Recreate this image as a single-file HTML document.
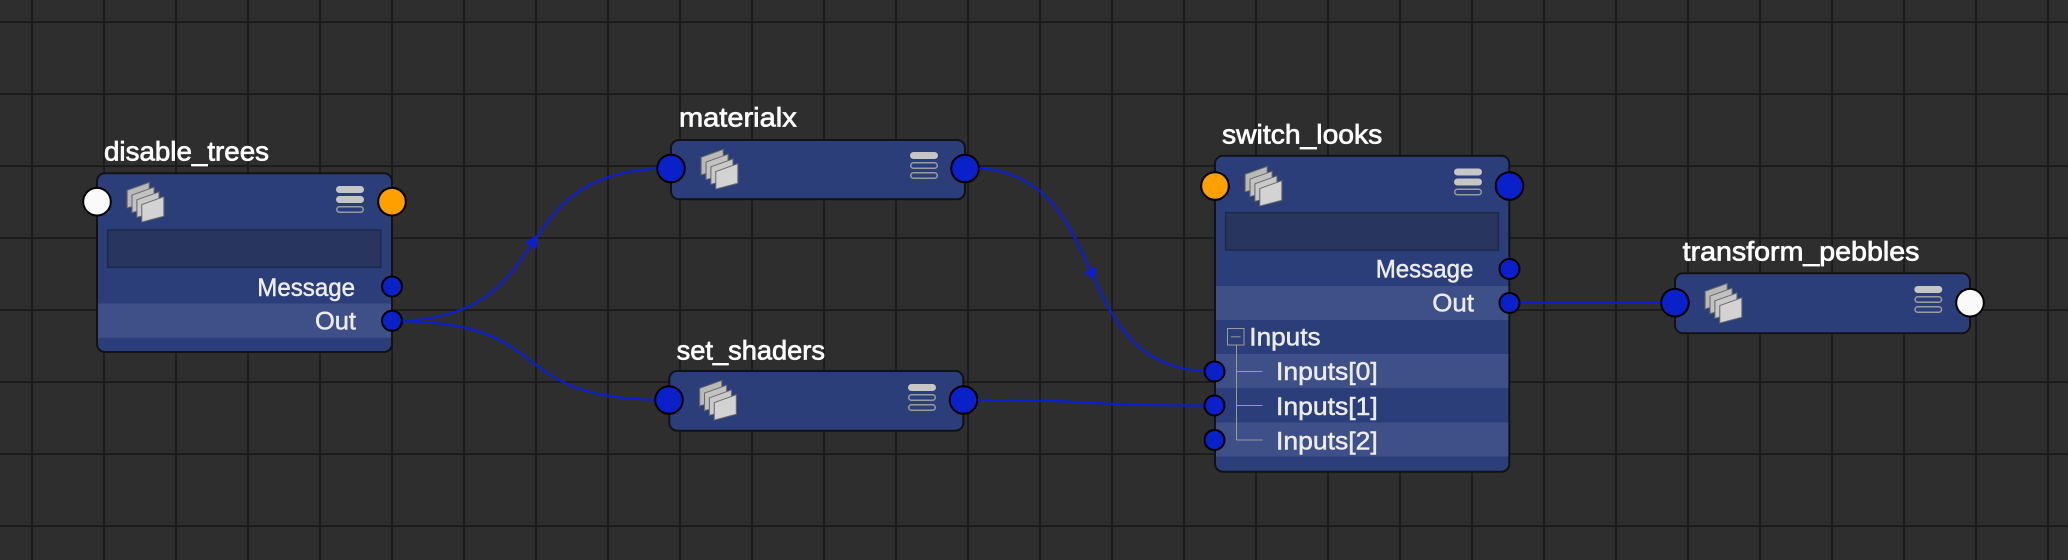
<!DOCTYPE html>
<html><head><meta charset="utf-8"><style>
html,body{margin:0;padding:0;background:#2e2e2e;}
svg{display:block;}
text{font-family:"Liberation Sans",sans-serif;}
.t{fill:#ffffff;stroke:#ffffff;stroke-width:0.7px;}
.l{fill:#ececec;stroke:#ececec;stroke-width:0.5px;}
</style></head><body>
<svg width="2068" height="560" viewBox="0 0 2068 560" xmlns="http://www.w3.org/2000/svg">
<defs>
<pattern id="grid" x="31" y="21" width="72" height="72" patternUnits="userSpaceOnUse">
<rect x="0" y="0" width="2" height="72" fill="#1c1c1c"/>
<rect x="0" y="0" width="72" height="2" fill="#1c1c1c"/>
</pattern>
<g id="fold">
<polygon points="1,10 20,2.4 20,21.4 1,27" fill="#b9b9b9" stroke="#6a6a6a" stroke-width="0.9"/>
<polygon points="5.2,14.6 24.2,7 24.2,26 5.2,31.6" fill="#c2c2c2" stroke="#6a6a6a" stroke-width="0.9"/>
<polygon points="9.4,19.2 28.4,11.6 28.4,30.6 9.4,36.2" fill="#c9c9c9" stroke="#6a6a6a" stroke-width="0.9"/>
<polygon points="13.6,23.8 32.6,16.2 32.6,35.2 13.6,40.8" fill="#d3d3d3" stroke="#6a6a6a" stroke-width="0.9"/>
</g>
<g id="menu2">
<rect x="0" y="0" width="28" height="7" rx="3.5" fill="#c6c6c6"/>
<rect x="0" y="10" width="28" height="7" rx="3.5" fill="#c6c6c6"/>
<rect x="0.75" y="20.75" width="26.5" height="5.5" rx="2.75" fill="none" stroke="#9b9b9b" stroke-width="1.5"/>
</g>
<g id="menu1">
<rect x="0" y="0" width="28" height="7" rx="3.5" fill="#c6c6c6"/>
<rect x="0.75" y="10.75" width="26.5" height="5.5" rx="2.75" fill="none" stroke="#9b9b9b" stroke-width="1.5"/>
<rect x="0.75" y="20.75" width="26.5" height="5.5" rx="2.75" fill="none" stroke="#9b9b9b" stroke-width="1.5"/>
</g>
</defs>

<rect width="2068" height="560" fill="#2e2e2e"/>
<rect width="2068" height="560" fill="url(#grid)"/>

<!-- connectors -->
<g fill="none" stroke="#0b1fd0" stroke-width="2.2">
<path d="M392,321 C568,321 495,168.3 671,168.3"/>
<path d="M392,321 C566,321 494.5,400 668.5,400"/>
<path d="M966,167.5 C1122,167.5 1058,371.5 1214,371.5"/>
<path d="M966,400 C1122,400 1058,405.5 1214,405.5"/>
<path d="M1509.5,302.7 L1675,302.7"/>
</g>
<polygon points="538.5,234.3 536.05,249.5 525.27,242.3" fill="#0b1fd0"/>
<polygon points="1095.1,280.9 1095.9,266.8 1084.1,272.2" fill="#0b1fd0"/>

<!-- disable_trees -->
<text class="t" x="104" y="160.7" font-size="27" textLength="165" lengthAdjust="spacingAndGlyphs">disable_trees</text>
<rect x="97" y="173.3" width="295" height="178.7" rx="8" fill="#2b3e7a" stroke="#121212" stroke-width="2"/>
<rect x="107.7" y="230" width="273" height="37.3" fill="#28355f" stroke="#1e2849" stroke-width="1.5"/>
<rect x="98" y="303.5" width="293" height="34.3" fill="#3f4f88"/>
<use href="#fold" transform="translate(126,180) scale(1.16,1.03)"/>
<use href="#menu2" x="336" y="186"/>
<text class="l" x="257.3" y="296" font-size="25" textLength="97.7" lengthAdjust="spacingAndGlyphs">Message</text>
<text class="l" x="315" y="329.3" font-size="25" textLength="41" lengthAdjust="spacingAndGlyphs">Out</text>

<!-- materialx -->
<text class="t" x="679" y="126.7" font-size="27" textLength="117.7" lengthAdjust="spacingAndGlyphs">materialx</text>
<rect x="671" y="140" width="294" height="59.3" rx="8" fill="#2b3e7a" stroke="#121212" stroke-width="2"/>
<use href="#fold" transform="translate(700,147) scale(1.16,1.03)"/>
<use href="#menu1" x="910" y="152"/>

<!-- set_shaders -->
<text class="t" x="676.7" y="359.3" font-size="27" textLength="148.3" lengthAdjust="spacingAndGlyphs">set_shaders</text>
<rect x="669.3" y="371" width="294" height="59.7" rx="8" fill="#2b3e7a" stroke="#121212" stroke-width="2"/>
<use href="#fold" transform="translate(698.5,378) scale(1.16,1.03)"/>
<use href="#menu1" x="908" y="384"/>

<!-- switch_looks -->
<text class="t" x="1222" y="143.3" font-size="27" textLength="160.3" lengthAdjust="spacingAndGlyphs">switch_looks</text>
<rect x="1215" y="155.7" width="294.3" height="316" rx="8" fill="#2b3e7a" stroke="#121212" stroke-width="2"/>
<rect x="1225.7" y="212.7" width="272.6" height="37.3" fill="#28355f" stroke="#1e2849" stroke-width="1.5"/>
<rect x="1216" y="286" width="292.3" height="34" fill="#3f4f88"/>
<rect x="1216" y="354" width="292.3" height="34" fill="#3f4f88"/>
<rect x="1216" y="422.5" width="292.3" height="34" fill="#3f4f88"/>
<use href="#fold" transform="translate(1244,164) scale(1.16,1.03)"/>
<use href="#menu2" x="1454" y="168.5"/>
<text class="l" x="1375.7" y="277.7" font-size="25" textLength="97.7" lengthAdjust="spacingAndGlyphs">Message</text>
<text class="l" x="1432.3" y="311.7" font-size="25" textLength="41.7" lengthAdjust="spacingAndGlyphs">Out</text>
<rect x="1227.5" y="328.5" width="16.5" height="16.5" fill="none" stroke="#9a9a9a" stroke-width="1"/>
<line x1="1231" y1="336.8" x2="1240.5" y2="336.8" stroke="#9a9a9a" stroke-width="1"/>
<g stroke="#9a9a9a" stroke-width="1">
<line x1="1236.5" y1="345" x2="1236.5" y2="440"/>
<line x1="1236.5" y1="371.5" x2="1262.5" y2="371.5"/>
<line x1="1236.5" y1="405.5" x2="1262.5" y2="405.5"/>
<line x1="1236.5" y1="440" x2="1262.5" y2="440"/>
</g>
<text class="l" x="1249.3" y="345.7" font-size="25" textLength="71.3" lengthAdjust="spacingAndGlyphs">Inputs</text>
<text class="l" x="1276" y="380" font-size="25" textLength="101.7" lengthAdjust="spacingAndGlyphs">Inputs[0]</text>
<text class="l" x="1276" y="415" font-size="25" textLength="101.7" lengthAdjust="spacingAndGlyphs">Inputs[1]</text>
<text class="l" x="1276" y="449.3" font-size="25" textLength="101.7" lengthAdjust="spacingAndGlyphs">Inputs[2]</text>

<!-- transform_pebbles -->
<text class="t" x="1682.7" y="260.7" font-size="27" textLength="236.7" lengthAdjust="spacingAndGlyphs">transform_pebbles</text>
<rect x="1675" y="273.3" width="295" height="60" rx="8" fill="#2b3e7a" stroke="#121212" stroke-width="2"/>
<use href="#fold" transform="translate(1704,281) scale(1.16,1.03)"/>
<use href="#menu1" x="1914.3" y="286"/>

<!-- ports -->
<g stroke="#000" stroke-width="2">
<circle cx="97" cy="201.7" r="13.8" fill="#fafafa"/>
<circle cx="392" cy="201.7" r="13.8" fill="#ffa000"/>
<circle cx="392" cy="286.5" r="10" fill="#0a20c8"/>
<circle cx="392" cy="320.8" r="10" fill="#0a20c8"/>

<circle cx="671" cy="168.5" r="13.8" fill="#0a20c8"/>
<circle cx="965" cy="168.5" r="13.8" fill="#0a20c8"/>

<circle cx="669" cy="400" r="13.8" fill="#0a20c8"/>
<circle cx="963.5" cy="400" r="13.8" fill="#0a20c8"/>

<circle cx="1215" cy="186" r="13.8" fill="#ffa000"/>
<circle cx="1509.5" cy="186" r="13.8" fill="#0a20c8"/>
<circle cx="1509.5" cy="269" r="10" fill="#0a20c8"/>
<circle cx="1509.5" cy="303" r="10" fill="#0a20c8"/>
<circle cx="1214.5" cy="371.5" r="10" fill="#0a20c8"/>
<circle cx="1214.5" cy="405.5" r="10" fill="#0a20c8"/>
<circle cx="1214.5" cy="440" r="10" fill="#0a20c8"/>

<circle cx="1675" cy="302.7" r="13.8" fill="#0a20c8"/>
<circle cx="1970" cy="302.7" r="13.8" fill="#fafafa"/>
</g>
</svg>
</body></html>
